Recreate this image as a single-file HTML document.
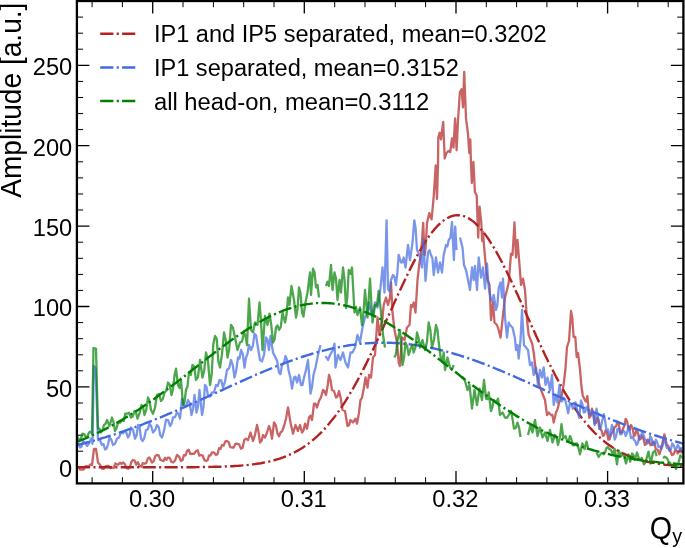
<!DOCTYPE html>
<html><head><meta charset="utf-8"><title>Amplitude vs Qy</title>
<style>
html,body{margin:0;padding:0;background:#fff;}
body{width:685px;height:548px;overflow:hidden;}
svg{display:block;}
text{font-family:"Liberation Sans",Arial,Helvetica,sans-serif;fill:#000;}
.tk{font-size:23.7px;}
.lg{font-size:23.7px;}
.ax{font-size:28.1px;}
</style></head><body>
<svg width="685" height="548" viewBox="0 0 685 548">
<rect x="0" y="0" width="685" height="548" fill="#fff"/>
<defs><clipPath id="cp"><rect x="76.9" y="1.0" width="606.5" height="482.4"/></clipPath></defs>
<g stroke="#000" fill="none">
<path d="M92.1 483.4v-6.2M92.1 1.0v6.2" stroke-width="1.0"/>
<path d="M122.4 483.4v-6.2M122.4 1.0v6.2" stroke-width="1.0"/>
<path d="M152.7 483.4v-12.5M152.7 1.0v12.5" stroke-width="1.3"/>
<path d="M183.0 483.4v-6.2M183.0 1.0v6.2" stroke-width="1.0"/>
<path d="M213.4 483.4v-6.2M213.4 1.0v6.2" stroke-width="1.0"/>
<path d="M243.7 483.4v-6.2M243.7 1.0v6.2" stroke-width="1.0"/>
<path d="M274.0 483.4v-6.2M274.0 1.0v6.2" stroke-width="1.0"/>
<path d="M304.3 483.4v-12.5M304.3 1.0v12.5" stroke-width="1.3"/>
<path d="M334.7 483.4v-6.2M334.7 1.0v6.2" stroke-width="1.0"/>
<path d="M365.0 483.4v-6.2M365.0 1.0v6.2" stroke-width="1.0"/>
<path d="M395.3 483.4v-6.2M395.3 1.0v6.2" stroke-width="1.0"/>
<path d="M425.6 483.4v-6.2M425.6 1.0v6.2" stroke-width="1.0"/>
<path d="M456.0 483.4v-12.5M456.0 1.0v12.5" stroke-width="1.3"/>
<path d="M486.3 483.4v-6.2M486.3 1.0v6.2" stroke-width="1.0"/>
<path d="M516.6 483.4v-6.2M516.6 1.0v6.2" stroke-width="1.0"/>
<path d="M546.9 483.4v-6.2M546.9 1.0v6.2" stroke-width="1.0"/>
<path d="M577.3 483.4v-6.2M577.3 1.0v6.2" stroke-width="1.0"/>
<path d="M607.6 483.4v-12.5M607.6 1.0v12.5" stroke-width="1.3"/>
<path d="M637.9 483.4v-6.2M637.9 1.0v6.2" stroke-width="1.0"/>
<path d="M668.2 483.4v-6.2M668.2 1.0v6.2" stroke-width="1.0"/>
<path d="M76.9 467.3h12.5M683.4 467.3h-12.5" stroke-width="1.3"/>
<path d="M76.9 451.2h6.2M683.4 451.2h-6.2" stroke-width="1.0"/>
<path d="M76.9 435.2h6.2M683.4 435.2h-6.2" stroke-width="1.0"/>
<path d="M76.9 419.1h6.2M683.4 419.1h-6.2" stroke-width="1.0"/>
<path d="M76.9 403.0h6.2M683.4 403.0h-6.2" stroke-width="1.0"/>
<path d="M76.9 386.9h12.5M683.4 386.9h-12.5" stroke-width="1.3"/>
<path d="M76.9 370.8h6.2M683.4 370.8h-6.2" stroke-width="1.0"/>
<path d="M76.9 354.8h6.2M683.4 354.8h-6.2" stroke-width="1.0"/>
<path d="M76.9 338.7h6.2M683.4 338.7h-6.2" stroke-width="1.0"/>
<path d="M76.9 322.6h6.2M683.4 322.6h-6.2" stroke-width="1.0"/>
<path d="M76.9 306.5h12.5M683.4 306.5h-12.5" stroke-width="1.3"/>
<path d="M76.9 290.4h6.2M683.4 290.4h-6.2" stroke-width="1.0"/>
<path d="M76.9 274.4h6.2M683.4 274.4h-6.2" stroke-width="1.0"/>
<path d="M76.9 258.3h6.2M683.4 258.3h-6.2" stroke-width="1.0"/>
<path d="M76.9 242.2h6.2M683.4 242.2h-6.2" stroke-width="1.0"/>
<path d="M76.9 226.1h12.5M683.4 226.1h-12.5" stroke-width="1.3"/>
<path d="M76.9 210.0h6.2M683.4 210.0h-6.2" stroke-width="1.0"/>
<path d="M76.9 194.0h6.2M683.4 194.0h-6.2" stroke-width="1.0"/>
<path d="M76.9 177.9h6.2M683.4 177.9h-6.2" stroke-width="1.0"/>
<path d="M76.9 161.8h6.2M683.4 161.8h-6.2" stroke-width="1.0"/>
<path d="M76.9 145.7h12.5M683.4 145.7h-12.5" stroke-width="1.3"/>
<path d="M76.9 129.6h6.2M683.4 129.6h-6.2" stroke-width="1.0"/>
<path d="M76.9 113.6h6.2M683.4 113.6h-6.2" stroke-width="1.0"/>
<path d="M76.9 97.5h6.2M683.4 97.5h-6.2" stroke-width="1.0"/>
<path d="M76.9 81.4h6.2M683.4 81.4h-6.2" stroke-width="1.0"/>
<path d="M76.9 65.3h12.5M683.4 65.3h-12.5" stroke-width="1.3"/>
<path d="M76.9 49.2h6.2M683.4 49.2h-6.2" stroke-width="1.0"/>
<path d="M76.9 33.2h6.2M683.4 33.2h-6.2" stroke-width="1.0"/>
<path d="M76.9 17.1h6.2M683.4 17.1h-6.2" stroke-width="1.0"/>
</g>
<g clip-path="url(#cp)" fill="none" stroke-linejoin="round">
<path d="M77.0 467.5L78.7 467.7L80.3 469.7L82.0 469.5L83.7 469.5L85.3 466.4L87.0 466.0L88.7 466.6L90.3 464.4L92.0 465.0L94.0 448.8L96.0 448.8L98.0 462.5L100.0 464.7L102.0 468.7L103.7 468.8L105.3 466.3L107.0 466.0L108.7 466.0L110.3 468.1L112.0 467.5L113.7 468.1L115.3 463.5L117.0 464.5L118.5 464.5L120.0 462.7L121.5 464.0L123.0 462.5L124.7 463.9L126.3 467.8L128.0 468.7L129.7 467.7L131.3 462.0L133.0 460.0L134.6 460.5L136.2 464.7L137.9 462.2L139.5 466.0L141.2 466.8L142.8 463.2L144.5 463.7L146.2 463.2L147.8 458.5L149.5 457.5L152.0 462.5L153.7 461.2L155.3 456.0L157.0 455.0L158.7 455.3L160.3 459.9L162.0 460.5L163.5 461.1L165.0 457.7L166.5 459.9L168.0 457.5L169.7 457.9L171.3 461.8L173.0 462.5L175.0 460.7L177.0 455.0L179.0 456.5L181.0 461.0L182.5 460.1L184.0 455.0L185.5 455.5L187.0 451.0L188.7 449.7L190.3 454.0L192.0 453.7L194.0 453.8L196.0 451.0L197.7 450.3L199.3 455.6L201.0 455.0L202.7 455.5L204.3 460.1L206.0 461.0L207.5 460.3L209.0 455.5L210.5 455.6L212.0 452.5L214.0 452.5L216.0 455.0L217.5 454.3L219.0 448.2L220.5 448.9L222.0 445.0L223.7 445.5L225.3 441.3L227.0 441.0L228.7 442.1L230.3 447.1L232.0 447.5L233.7 447.5L235.3 443.9L237.0 443.7L239.0 444.3L241.0 448.7L242.7 447.5L244.3 439.9L246.0 438.7L248.0 440.0L250.5 432.5L253.0 441.0L255.0 434.9L257.0 425.0L258.5 431.8L260.0 442.5L261.5 441.2L263.0 435.0L265.0 437.6L267.0 432.5L269.0 426.0L270.5 430.2L272.0 438.7L274.0 422.5L275.8 425.2L277.5 433.7L279.0 436.2L280.5 432.5L282.2 431.2L284.0 426.0L286.0 418.7L288.0 407.5L290.5 422.5L293.0 433.7L295.5 425.0L298.0 431.0L300.0 425.0L302.0 432.5L303.5 430.6L305.0 423.7L307.0 428.7L309.0 417.5L310.5 415.8L312.0 420.0L314.0 403.7L315.5 403.6L317.0 407.5L319.0 401.0L321.0 397.2L323.0 390.0L324.5 391.2L326.0 395.0L327.5 386.8L329.0 375.0L330.5 380.0L332.0 390.0L334.0 391.0L336.0 397.5L337.5 396.5L339.0 391.0L340.8 398.6L342.5 410.0L345.0 411.0L347.5 426.0L349.0 425.2L350.5 420.0L353.0 422.5L355.5 418.7L357.0 423.7L358.8 414.0L360.5 400.0L362.0 397.8L363.5 390.0L365.5 377.5L367.5 387.5L369.0 375.0L371.0 377.5L373.0 357.5L375.0 355.0L377.5 317.5L379.5 335.0L381.0 325.0L382.4 318.9L383.7 305.0L386.0 297.5L388.0 305.0L390.0 297.5L391.0 282.5L392.5 312.5L394.5 330.0L397.0 342.5L398.7 362.5L400.0 366.0L402.0 337.5L404.5 340.0L407.0 327.5L409.5 325.0L411.0 305.0L412.4 306.7L413.7 302.5L415.5 312.5L417.5 280.0L419.5 262.5L421.0 255.0L423.2 223.0L424.5 255.0L425.6 248.5L427.0 223.0L429.3 213.0L431.6 219.3L433.8 195.6L435.7 165.5L437.0 199.0L438.0 164.6L438.3 137.5L439.6 132.7L441.0 139.4L443.2 122.0L444.7 158.5L446.5 153.0L448.4 151.0L450.2 152.0L452.0 138.5L453.5 147.6L455.1 118.4L456.6 150.3L458.0 120.2L459.9 92.0L461.7 89.2L463.0 107.4L464.2 71.9L466.0 118.4L467.9 133.0L469.3 153.0L470.3 139.4L470.9 161.0L471.8 183.0L473.4 162.0L474.9 192.0L476.7 195.6L478.2 237.6L479.6 206.6L481.3 223.0L482.2 241.0L483.0 232.0L484.4 250.0L485.5 262.5L487.5 280.0L489.5 285.0L491.0 320.0L493.0 302.5L494.5 322.5L497.0 325.0L498.7 330.0L500.5 337.5L502.5 320.0L505.0 297.5L507.0 290.0L508.7 282.5L511.0 253.7L512.5 255.0L514.5 222.5L516.0 257.5L517.5 240.0L519.5 265.0L521.0 285.0L523.0 278.7L525.0 290.0L527.0 320.0L528.7 335.0L530.7 340.0L532.2 343.7L533.7 352.5L536.0 372.5L537.4 374.6L538.7 382.5L541.0 390.0L543.0 395.0L545.0 400.0L547.0 415.0L548.7 412.5L551.0 415.0L552.4 414.9L553.7 422.5L556.0 412.5L557.6 408.9L559.3 402.0L561.3 397.6L563.4 386.0L565.4 369.5L567.0 347.0L569.0 341.0L571.0 311.0L572.3 318.2L573.6 337.0L575.3 337.0L576.7 357.0L578.0 353.0L579.8 367.5L581.4 386.0L582.8 396.0L584.6 399.6L586.0 401.5L587.4 396.0L589.2 417.8L590.6 416.3L592.0 408.7L593.4 413.5L594.7 423.3L596.0 423.1L597.4 417.8L598.7 420.6L600.0 428.8L601.5 430.5L603.0 436.0L604.3 434.6L605.6 430.6L607.0 432.5L608.4 439.7L609.7 439.1L611.0 434.3L612.9 432.2L614.7 427.0L616.1 426.3L617.5 421.5L618.9 424.9L620.2 432.4L621.6 432.4L623.0 428.8L624.4 425.6L625.7 418.8L627.0 420.9L628.4 428.8L629.7 430.0L631.0 425.0L632.5 427.7L634.0 436.0L635.3 434.8L636.6 428.8L638.0 433.0L639.4 439.7L640.7 439.0L642.0 436.0L643.5 439.0L644.9 445.0L646.2 443.9L647.6 439.7L649.0 440.4L650.3 445.0L651.6 445.2L653.0 441.6L654.4 442.7L655.8 449.0L657.6 449.8L659.5 454.3L662.0 445.0L664.4 434.3L666.8 445.0L668.1 445.8L669.5 449.0L672.0 455.0L673.5 454.4L675.0 450.7L676.4 450.6L677.7 453.4L679.0 452.0L680.4 449.0L682.0 453.4" stroke="#b22222" stroke-opacity="0.7" stroke-width="2.3"/>
<path d="M76.9 467.3L78.9 467.3L80.9 467.3L83.0 467.3L85.0 467.3L87.0 467.3L89.0 467.3L91.1 467.3L93.1 467.3L95.1 467.3L97.1 467.3L99.1 467.3L101.2 467.3L103.2 467.3L105.2 467.3L107.2 467.3L109.2 467.3L111.3 467.3L113.3 467.3L115.3 467.3L117.3 467.3L119.4 467.3L121.4 467.3L123.4 467.3L125.4 467.3L127.4 467.3L129.5 467.3L131.5 467.3L133.5 467.3L135.5 467.3L137.6 467.3L139.6 467.3L141.6 467.3L143.6 467.3L145.6 467.3L147.7 467.3L149.7 467.3L151.7 467.3L153.7 467.3L155.7 467.3L157.8 467.3L159.8 467.3L161.8 467.3L163.8 467.3L165.9 467.3L167.9 467.3L169.9 467.3L171.9 467.3L173.9 467.3L176.0 467.3L178.0 467.3L180.0 467.2L182.0 467.2L184.0 467.2L186.1 467.2L188.1 467.2L190.1 467.2L192.1 467.2L194.2 467.2L196.2 467.1L198.2 467.1L200.2 467.1L202.2 467.1L204.3 467.0L206.3 467.0L208.3 467.0L210.3 466.9L212.4 466.9L214.4 466.8L216.4 466.8L218.4 466.7L220.4 466.7L222.5 466.6L224.5 466.5L226.5 466.4L228.5 466.4L230.5 466.3L232.6 466.2L234.6 466.0L236.6 465.9L238.6 465.8L240.7 465.6L242.7 465.4L244.7 465.3L246.7 465.1L248.7 464.9L250.8 464.6L252.8 464.4L254.8 464.1L256.8 463.8L258.9 463.5L260.9 463.2L262.9 462.8L264.9 462.4L266.9 462.0L269.0 461.6L271.0 461.1L273.0 460.6L275.0 460.0L277.0 459.4L279.1 458.8L281.1 458.1L283.1 457.4L285.1 456.6L287.2 455.8L289.2 454.9L291.2 454.0L293.2 453.0L295.2 452.0L297.3 450.9L299.3 449.7L301.3 448.5L303.3 447.2L305.3 445.8L307.4 444.4L309.4 442.9L311.4 441.3L313.4 439.6L315.5 437.9L317.5 436.0L319.5 434.1L321.5 432.1L323.5 430.0L325.6 427.8L327.6 425.5L329.6 423.1L331.6 420.6L333.7 418.1L335.7 415.4L337.7 412.6L339.7 409.8L341.7 406.8L343.8 403.8L345.8 400.6L347.8 397.3L349.8 394.0L351.8 390.6L353.9 387.0L355.9 383.4L357.9 379.7L359.9 375.9L362.0 372.0L364.0 368.1L366.0 364.1L368.0 360.0L370.0 355.8L372.1 351.6L374.1 347.3L376.1 343.0L378.1 338.6L380.2 334.2L382.2 329.8L384.2 325.3L386.2 320.8L388.2 316.3L390.3 311.8L392.3 307.3L394.3 302.8L396.3 298.4L398.3 293.9L400.4 289.5L402.4 285.2L404.4 280.9L406.4 276.7L408.5 272.5L410.5 268.4L412.5 264.4L414.5 260.6L416.5 256.8L418.6 253.1L420.6 249.6L422.6 246.2L424.6 242.9L426.6 239.8L428.7 236.8L430.7 234.1L432.7 231.4L434.7 229.0L436.8 226.7L438.8 224.7L440.8 222.8L442.8 221.1L444.8 219.6L446.9 218.4L448.9 217.3L450.9 216.4L452.9 215.8L455.0 215.4L457.0 215.2L459.0 215.2L461.0 215.5L463.0 215.9L465.1 216.6L467.1 217.5L469.1 218.6L471.1 219.9L473.1 221.4L475.2 223.1L477.2 225.1L479.2 227.2L481.2 229.5L483.3 231.9L485.3 234.6L487.3 237.4L489.3 240.4L491.3 243.6L493.4 246.8L495.4 250.3L497.4 253.8L499.4 257.5L501.5 261.3L503.5 265.2L505.5 269.2L507.5 273.3L509.5 277.5L511.6 281.7L513.6 286.0L515.6 290.4L517.6 294.8L519.6 299.3L521.7 303.7L523.7 308.2L525.7 312.7L527.7 317.2L529.8 321.7L531.8 326.2L533.8 330.6L535.8 335.1L537.8 339.5L539.9 343.9L541.9 348.2L543.9 352.4L545.9 356.7L547.9 360.8L550.0 364.9L552.0 368.9L554.0 372.8L556.0 376.7L558.1 380.5L560.1 384.1L562.1 387.7L564.1 391.3L566.1 394.7L568.2 398.0L570.2 401.2L572.2 404.4L574.2 407.4L576.3 410.4L578.3 413.2L580.3 415.9L582.3 418.6L584.3 421.1L586.4 423.6L588.4 426.0L590.4 428.2L592.4 430.4L594.4 432.5L596.5 434.5L598.5 436.4L600.5 438.2L602.5 440.0L604.6 441.6L606.6 443.2L608.6 444.7L610.6 446.1L612.6 447.5L614.7 448.7L616.7 450.0L618.7 451.1L620.7 452.2L622.7 453.2L624.8 454.2L626.8 455.1L628.8 456.0L630.8 456.8L632.9 457.5L634.9 458.2L636.9 458.9L638.9 459.5L640.9 460.1L643.0 460.7L645.0 461.2L647.0 461.7L649.0 462.1L651.1 462.5L653.1 462.9L655.1 463.2L657.1 463.6L659.1 463.9L661.2 464.2L663.2 464.4L665.2 464.7L667.2 464.9L669.2 465.1L671.3 465.3L673.3 465.5L675.3 465.6L677.3 465.8L679.4 465.9L681.4 466.1L683.4 466.2" stroke="#b22222" stroke-width="2.4" stroke-dasharray="13.2 3.3 2.1 3.3"/>
<path d="M77.0 443.7L78.5 443.7L80.0 447.5L81.5 446.7L83.0 441.0L85.0 442.6L87.0 446.0L89.0 443.5L91.0 438.7L92.5 443.7L93.8 366.0L95.6 368.0L98.0 440.0L100.0 440.2L102.0 445.0L103.5 444.1L105.0 449.5L106.5 448.7L108.0 444.6L109.5 437.5L111.2 439.3L113.0 445.0L115.0 443.8L117.0 438.7L119.0 437.5L121.0 432.5L122.8 433.3L124.5 431.0L126.2 432.3L128.0 437.5L129.5 435.1L131.0 427.5L133.0 429.8L135.0 438.7L136.5 435.8L138.0 425.0L139.5 426.5L141.0 438.6L142.5 441.0L144.2 438.4L146.0 430.0L147.8 429.4L149.5 423.7L151.2 426.2L153.0 432.5L155.0 430.3L157.0 425.0L158.7 426.9L160.3 435.4L162.0 437.5L164.0 430.6L166.0 420.0L168.0 419.8L170.0 426.0L171.5 423.9L173.0 417.5L175.0 417.1L177.0 412.5L178.5 414.0L180.0 418.7L182.0 398.7L184.5 406.0L186.2 405.6L188.0 400.0L189.8 403.3L191.5 415.0L193.0 408.9L194.5 395.0L196.5 412.5L198.0 406.2L199.5 390.0L202.0 415.0L203.5 406.9L205.0 385.0L206.5 387.0L208.0 396.0L210.0 396.5L212.0 392.5L214.0 392.5L216.0 385.0L217.8 386.0L219.5 380.0L221.2 380.4L223.0 387.5L225.0 381.6L227.0 370.0L229.0 368.4L231.0 360.0L232.8 365.3L234.5 377.5L236.2 370.6L238.0 357.5L239.5 358.6L241.0 350.0L242.8 353.9L244.5 367.5L246.0 357.5L247.5 353.8L249.0 345.0L251.0 350.0L252.8 346.1L254.5 333.7L256.0 335.2L257.5 345.0L260.0 360.0L262.0 361.3L264.0 355.0L266.0 337.5L267.5 339.7L269.0 350.0L270.5 336.0L273.0 352.5L275.5 357.5L277.2 361.1L279.0 372.5L280.5 374.1L282.0 365.0L283.8 363.6L285.5 356.0L287.0 359.8L288.5 370.0L290.2 376.9L292.0 388.7L294.0 377.5L295.5 376.7L297.0 382.5L299.0 375.0L301.0 385.0L302.5 385.0L304.0 377.5L306.0 370.0L308.0 360.0L310.5 393.7L312.0 387.1L313.5 375.0L315.5 367.5L318.0 355.0L320.5 345.0M325.5 356.0L328.0 360.0L330.5 354.0L333.0 350.0L334.5 343.7L335.5 367.5L338.0 355.0L340.5 360.0L343.0 352.5L345.5 362.5L348.0 367.5L350.5 352.5L352.5 352.5L355.0 347.5L357.5 335.0L360.0 342.5L362.5 327.5L365.0 317.5L367.0 313.0L369.0 302.5L371.0 312.5L373.0 313.2L375.0 302.5L377.5 307.5L380.0 292.5L382.5 267.5L384.5 292.5L386.6 220.3L388.0 289.0L389.5 291.5L391.0 280.0L393.0 275.0L394.5 277.2L396.0 285.0L397.4 272.2L398.7 255.0L401.0 262.5L402.4 262.4L403.7 257.5L405.5 267.5L408.0 245.0L410.0 260.0L412.5 242.5L414.3 220.3L415.6 228.2L417.0 250.0L419.5 255.0L422.0 267.5L423.5 239.4L425.5 281.0L428.0 252.5L429.5 250.2L431.0 255.0L432.4 258.4L433.7 275.0L436.0 257.5L438.0 272.5L440.0 262.5L442.0 272.5L443.7 255.0L446.0 245.0L447.4 246.5L448.7 240.0L450.4 237.8L452.0 222.0L453.9 260.0L455.2 226.6L456.5 250.0M460.0 237.5L462.5 247.5L464.0 265.0L466.0 270.0L468.0 280.0L470.0 290.0L472.0 267.5L473.7 280.0L475.0 266.0L477.0 290.0L478.7 257.5L481.0 277.5L483.0 267.5L485.0 288.7L487.0 263.7L488.7 287.5L491.0 300.0L492.4 301.0L493.7 295.0L496.0 310.0L497.4 304.8L498.7 288.0L500.5 282.5L502.0 297.5L503.0 278.7L505.0 317.5L507.0 337.5L508.7 322.5L510.0 325.0L512.5 327.5L515.0 338.5L516.0 350.0L517.5 345.0L518.7 358.7L520.5 340.0L522.0 310.0L524.0 345.0L526.0 347.5L528.0 350.0L530.0 365.0L532.0 362.5L533.7 375.0L536.0 367.5L538.0 385.0L540.0 370.0L542.0 377.5L543.7 367.5L545.5 385.0L547.5 377.5L550.0 390.0L552.0 375.0L553.7 405.0L555.5 395.0L557.5 402.5L559.5 385.0L560.5 396.0L561.8 401.4L563.6 397.8L565.0 399.0L566.4 405.0L568.2 413.3L570.0 403.0L571.4 403.8L572.8 408.7L574.1 407.8L575.5 402.3L577.3 410.5L579.2 417.8L581.0 400.5L582.4 404.1L583.7 412.4L585.1 412.2L586.5 407.0L587.9 407.8L589.2 414.2L590.6 414.9L592.0 410.5L593.4 415.7L594.7 425.0L596.5 408.7L597.9 416.0L599.2 428.8L600.6 428.5L602.0 421.5L603.8 414.2L605.1 420.4L606.5 430.6L607.9 429.4L609.3 436.0L610.6 432.9L612.0 425.0L613.4 429.6L614.7 439.7L616.1 436.1L617.5 428.8L618.9 428.5L620.2 434.3L621.6 434.1L623.0 430.6L624.4 431.6L625.7 436.0L627.0 432.8L628.4 427.0L629.7 431.3L631.0 438.0L632.5 436.9L634.0 439.7L635.3 441.3L636.6 445.0L638.0 442.6L639.4 436.0L640.7 436.8L642.0 432.4L643.5 434.9L644.9 439.7L646.2 440.0L647.6 443.4L649.0 442.4L650.3 436.0L651.6 438.6L653.0 445.0L654.4 444.8L655.8 439.7L657.1 442.1L658.5 447.0L659.9 446.2L661.3 449.0L662.6 445.8L664.0 439.7L665.4 442.1L666.8 448.0L668.1 448.3L669.5 450.7L670.9 449.2L672.2 443.4L673.6 445.2L675.0 449.0L676.4 448.9L677.7 445.0L679.0 446.9L680.4 450.7L682.0 447.0" stroke="#4169e1" stroke-opacity="0.7" stroke-width="2.3"/>
<path d="M76.9 445.2L78.9 444.6L80.9 444.1L83.0 443.6L85.0 443.1L87.0 442.5L89.0 442.0L91.1 441.4L93.1 440.8L95.1 440.3L97.1 439.7L99.1 439.1L101.2 438.5L103.2 437.9L105.2 437.3L107.2 436.6L109.2 436.0L111.3 435.4L113.3 434.7L115.3 434.1L117.3 433.4L119.4 432.7L121.4 432.0L123.4 431.3L125.4 430.6L127.4 429.9L129.5 429.2L131.5 428.5L133.5 427.8L135.5 427.0L137.6 426.3L139.6 425.5L141.6 424.8L143.6 424.0L145.6 423.2L147.7 422.4L149.7 421.6L151.7 420.8L153.7 420.0L155.7 419.2L157.8 418.4L159.8 417.6L161.8 416.8L163.8 415.9L165.9 415.1L167.9 414.2L169.9 413.4L171.9 412.5L173.9 411.7L176.0 410.8L178.0 409.9L180.0 409.0L182.0 408.1L184.0 407.3L186.1 406.4L188.1 405.5L190.1 404.6L192.1 403.7L194.2 402.8L196.2 401.9L198.2 400.9L200.2 400.0L202.2 399.1L204.3 398.2L206.3 397.3L208.3 396.3L210.3 395.4L212.4 394.5L214.4 393.6L216.4 392.6L218.4 391.7L220.4 390.8L222.5 389.9L224.5 388.9L226.5 388.0L228.5 387.1L230.5 386.2L232.6 385.2L234.6 384.3L236.6 383.4L238.6 382.5L240.7 381.6L242.7 380.7L244.7 379.8L246.7 378.9L248.7 378.0L250.8 377.1L252.8 376.2L254.8 375.3L256.8 374.4L258.9 373.6L260.9 372.7L262.9 371.8L264.9 371.0L266.9 370.1L269.0 369.3L271.0 368.5L273.0 367.7L275.0 366.8L277.0 366.0L279.1 365.2L281.1 364.5L283.1 363.7L285.1 362.9L287.2 362.2L289.2 361.4L291.2 360.7L293.2 359.9L295.2 359.2L297.3 358.5L299.3 357.8L301.3 357.2L303.3 356.5L305.3 355.8L307.4 355.2L309.4 354.6L311.4 354.0L313.4 353.4L315.5 352.8L317.5 352.2L319.5 351.7L321.5 351.1L323.5 350.6L325.6 350.1L327.6 349.6L329.6 349.1L331.6 348.6L333.7 348.2L335.7 347.8L337.7 347.4L339.7 347.0L341.7 346.6L343.8 346.2L345.8 345.9L347.8 345.5L349.8 345.2L351.8 344.9L353.9 344.7L355.9 344.4L357.9 344.2L359.9 343.9L362.0 343.7L364.0 343.5L366.0 343.4L368.0 343.2L370.0 343.1L372.1 343.0L374.1 342.9L376.1 342.8L378.1 342.8L380.2 342.7L382.2 342.7L384.2 342.7L386.2 342.7L388.2 342.8L390.3 342.8L392.3 342.9L394.3 343.0L396.3 343.1L398.3 343.2L400.4 343.4L402.4 343.5L404.4 343.7L406.4 343.9L408.5 344.2L410.5 344.4L412.5 344.7L414.5 344.9L416.5 345.2L418.6 345.5L420.6 345.9L422.6 346.2L424.6 346.6L426.6 347.0L428.7 347.4L430.7 347.8L432.7 348.2L434.7 348.6L436.8 349.1L438.8 349.6L440.8 350.1L442.8 350.6L444.8 351.1L446.9 351.7L448.9 352.2L450.9 352.8L452.9 353.4L455.0 354.0L457.0 354.6L459.0 355.2L461.0 355.8L463.0 356.5L465.1 357.2L467.1 357.8L469.1 358.5L471.1 359.2L473.1 359.9L475.2 360.7L477.2 361.4L479.2 362.2L481.2 362.9L483.3 363.7L485.3 364.5L487.3 365.2L489.3 366.0L491.3 366.8L493.4 367.7L495.4 368.5L497.4 369.3L499.4 370.1L501.5 371.0L503.5 371.8L505.5 372.7L507.5 373.6L509.5 374.4L511.6 375.3L513.6 376.2L515.6 377.1L517.6 378.0L519.6 378.9L521.7 379.8L523.7 380.7L525.7 381.6L527.7 382.5L529.8 383.4L531.8 384.3L533.8 385.2L535.8 386.2L537.8 387.1L539.9 388.0L541.9 388.9L543.9 389.9L545.9 390.8L547.9 391.7L550.0 392.6L552.0 393.6L554.0 394.5L556.0 395.4L558.1 396.3L560.1 397.3L562.1 398.2L564.1 399.1L566.1 400.0L568.2 400.9L570.2 401.9L572.2 402.8L574.2 403.7L576.3 404.6L578.3 405.5L580.3 406.4L582.3 407.3L584.3 408.1L586.4 409.0L588.4 409.9L590.4 410.8L592.4 411.7L594.4 412.5L596.5 413.4L598.5 414.2L600.5 415.1L602.5 415.9L604.6 416.8L606.6 417.6L608.6 418.4L610.6 419.2L612.6 420.0L614.7 420.8L616.7 421.6L618.7 422.4L620.7 423.2L622.7 424.0L624.8 424.8L626.8 425.5L628.8 426.3L630.8 427.0L632.9 427.8L634.9 428.5L636.9 429.2L638.9 429.9L640.9 430.6L643.0 431.3L645.0 432.0L647.0 432.7L649.0 433.4L651.1 434.1L653.1 434.7L655.1 435.4L657.1 436.0L659.1 436.6L661.2 437.3L663.2 437.9L665.2 438.5L667.2 439.1L669.2 439.7L671.3 440.3L673.3 440.8L675.3 441.4L677.3 442.0L679.4 442.5L681.4 443.1L683.4 443.6" stroke="#4169e1" stroke-width="2.4" stroke-dasharray="13.2 3.3 2.1 3.3"/>
<path d="M77.0 436.0L79.5 441.0L81.0 438.4L82.5 433.7L84.2 434.1L86.0 437.5L87.5 436.3L89.0 432.5L90.5 431.6L92.0 433.7L93.5 348.0L96.0 348.7L98.0 428.7L99.5 428.7L101.0 432.5L102.5 430.1L104.0 425.0L105.5 423.8L107.0 420.0L109.5 426.0L112.0 417.5L113.5 422.0L115.0 431.0L116.5 428.2L118.0 422.5L120.0 422.7L122.0 420.0L123.7 420.9L125.3 413.7L127.0 413.7L129.0 412.8L131.0 417.5L132.8 416.4L134.5 411.0L136.0 412.4L137.5 418.7L139.5 413.4L141.5 405.0L143.0 406.9L144.5 415.0L146.2 409.9L148.0 397.5L149.5 400.9L151.0 410.0L153.0 413.7L155.0 407.7L157.0 395.0L159.0 394.0L161.0 401.0L162.8 399.0L164.5 392.5L166.2 390.9L168.0 382.5L169.8 385.0L171.5 395.0L173.0 389.2L174.5 375.3L176.0 368.7L178.0 385.0L179.5 388.0L181.0 380.0L183.0 405.0L184.5 402.0L186.0 390.0L187.5 386.4L189.0 372.0L190.8 374.9L192.5 365.0L194.2 366.6L196.0 380.0L198.0 376.8L200.0 360.0L202.5 377.5L204.2 370.4L206.0 352.5L208.0 361.3L210.0 385.0L211.7 374.3L213.3 344.2L215.0 336.0L216.7 338.7L218.3 361.0L220.0 367.5L222.0 354.2L224.0 332.5L225.8 340.4L227.5 357.5L229.2 349.5L231.0 325.0L233.0 327.9L235.0 337.5L237.5 350.0L240.0 342.5L242.0 341.4L244.0 332.5L245.5 335.8L247.0 345.0L249.0 298.7L251.0 330.0L253.0 332.2L255.0 322.5L257.5 325.0L259.5 302.5L261.0 320.9L262.5 350.0L265.0 316.0L267.5 325.0L269.5 313.7L271.2 324.4L273.0 342.5L274.5 339.5L276.0 327.5L277.5 325.4L279.0 330.0L280.8 326.9L282.5 312.5L285.0 322.5L286.5 314.8L288.0 297.5L289.5 305.0L291.5 286.0L294.0 300.0L296.0 317.5L297.5 309.1L299.0 287.5L300.5 293.1L302.0 312.5L303.5 316.6L305.0 305.0L307.5 292.5L310.0 272.5L311.0 295.0L313.0 268.7L314.5 272.1L316.0 287.5L317.5 285.0L319.0 297.5M326.0 286.0L327.5 281.7L329.0 286.0L331.0 265.0L332.5 290.0L334.5 272.5L336.0 278.6L337.5 300.0L339.5 280.0L341.0 292.5L343.0 267.5L344.5 279.5L346.0 308.0L347.4 296.5L348.7 270.0L350.4 273.9L352.0 267.5L354.5 312.5L356.0 306.8L357.5 315.0L360.0 307.5L362.0 325.0L363.5 312.0L365.0 290.0L367.5 317.5L370.0 278.7L372.5 322.5L375.0 305.0L376.9 305.6L378.7 291.0L381.0 312.5L383.0 335.0L385.0 347.5M394.5 357.5L396.0 354.0L397.5 340.0L400.0 330.0L402.5 365.0L404.0 357.8L405.5 342.5L407.1 346.1L408.7 355.0L411.0 347.5L412.4 345.5L413.7 352.5L415.4 347.4L417.0 332.5L418.5 337.7L420.0 347.5L422.5 340.0L425.0 350.0L426.9 342.4L428.7 322.5L430.4 330.5L432.0 347.5L434.0 339.7L436.0 325.0L437.4 329.7L438.7 342.5L441.0 360.0L442.4 362.2L443.7 352.5L445.0 370.0L447.5 357.5L450.0 367.5L451.9 369.9L453.7 365.0M461.0 377.5L463.0 377.7L465.0 381.0L467.5 390.0L469.5 385.0L472.0 408.7L474.5 390.0L477.0 405.0L479.5 388.7L482.0 400.0L484.0 380.0L486.0 398.7L487.4 399.1L488.7 392.5L491.0 411.0L492.4 407.4L493.7 400.0L496.0 402.5L498.0 398.7L500.0 415.0L502.5 412.5L505.0 417.5L506.9 417.9L508.7 415.0L511.0 411.0L512.5 418.6L514.0 428.7L515.8 427.9L517.5 422.5L519.0 427.3L520.5 437.0M528.0 435.0L530.5 425.0L532.5 432.5L535.0 420.0L537.5 436.0L540.0 427.5L542.5 437.5L545.0 432.5L547.5 441.0L550.0 430.0L552.5 442.5L555.0 435.0L556.5 437.2L558.0 445.0L560.0 437.0L561.5 424.2L563.3 438.0L565.5 436.0L567.3 441.6L568.6 441.0L570.0 436.0L571.4 439.3L572.8 445.2L574.1 445.3L575.5 443.4L576.9 443.5L578.2 447.0L580.0 454.3L582.3 443.4L584.6 449.0L586.5 441.6L588.3 449.0M596.5 452.5L598.7 457.0L601.0 453.4L602.4 453.1L603.8 454.3L605.1 452.3L606.5 448.0L607.9 447.1L609.3 449.0L611.1 450.0L613.0 454.3L614.7 449.0L617.0 464.4L618.8 450.7L621.0 456.2L623.5 454.3L626.0 463.5L628.4 454.3L630.3 461.6L632.0 453.4L633.4 455.1L634.8 459.8L637.0 452.5L639.4 459.8L641.8 458.0L644.0 464.4L645.4 462.3L646.7 458.0L648.5 451.6L650.7 463.5L653.0 452.5L655.0 450.7L656.7 456.2M663.0 458.0L664.9 456.7L666.8 458.0L668.6 461.6L670.0 462.6L671.3 465.3L672.6 465.8L674.0 463.5L676.0 469.0L678.3 463.5L680.4 455.3L682.0 458.0" stroke="#008000" stroke-opacity="0.7" stroke-width="2.3"/>
<path d="M76.9 441.8L78.9 441.1L80.9 440.2L83.0 439.4L85.0 438.6L87.0 437.7L89.0 436.8L91.1 435.9L93.1 435.0L95.1 434.1L97.1 433.1L99.1 432.2L101.2 431.2L103.2 430.2L105.2 429.1L107.2 428.1L109.2 427.0L111.3 425.9L113.3 424.8L115.3 423.7L117.3 422.6L119.4 421.4L121.4 420.2L123.4 419.1L125.4 417.8L127.4 416.6L129.5 415.4L131.5 414.1L133.5 412.8L135.5 411.5L137.6 410.2L139.6 408.9L141.6 407.6L143.6 406.2L145.6 404.8L147.7 403.4L149.7 402.0L151.7 400.6L153.7 399.2L155.7 397.7L157.8 396.3L159.8 394.8L161.8 393.3L163.8 391.8L165.9 390.3L167.9 388.8L169.9 387.3L171.9 385.8L173.9 384.2L176.0 382.7L178.0 381.1L180.0 379.6L182.0 378.0L184.0 376.5L186.1 374.9L188.1 373.3L190.1 371.7L192.1 370.1L194.2 368.6L196.2 367.0L198.2 365.4L200.2 363.8L202.2 362.2L204.3 360.6L206.3 359.1L208.3 357.5L210.3 355.9L212.4 354.4L214.4 352.8L216.4 351.3L218.4 349.8L220.4 348.2L222.5 346.7L224.5 345.2L226.5 343.7L228.5 342.2L230.5 340.8L232.6 339.3L234.6 337.9L236.6 336.5L238.6 335.1L240.7 333.7L242.7 332.4L244.7 331.0L246.7 329.7L248.7 328.4L250.8 327.2L252.8 325.9L254.8 324.7L256.8 323.5L258.9 322.3L260.9 321.2L262.9 320.1L264.9 319.0L266.9 318.0L269.0 316.9L271.0 315.9L273.0 315.0L275.0 314.1L277.0 313.2L279.1 312.3L281.1 311.5L283.1 310.7L285.1 309.9L287.2 309.2L289.2 308.5L291.2 307.9L293.2 307.3L295.2 306.7L297.3 306.2L299.3 305.7L301.3 305.3L303.3 304.8L305.3 304.5L307.4 304.1L309.4 303.9L311.4 303.6L313.4 303.4L315.5 303.2L317.5 303.1L319.5 303.0L321.5 303.0L323.5 303.0L325.6 303.0L327.6 303.1L329.6 303.2L331.6 303.4L333.7 303.6L335.7 303.9L337.7 304.1L339.7 304.5L341.7 304.8L343.8 305.3L345.8 305.7L347.8 306.2L349.8 306.7L351.8 307.3L353.9 307.9L355.9 308.5L357.9 309.2L359.9 309.9L362.0 310.7L364.0 311.5L366.0 312.3L368.0 313.2L370.0 314.1L372.1 315.0L374.1 315.9L376.1 316.9L378.1 318.0L380.2 319.0L382.2 320.1L384.2 321.2L386.2 322.3L388.2 323.5L390.3 324.7L392.3 325.9L394.3 327.2L396.3 328.4L398.3 329.7L400.4 331.0L402.4 332.4L404.4 333.7L406.4 335.1L408.5 336.5L410.5 337.9L412.5 339.3L414.5 340.8L416.5 342.2L418.6 343.7L420.6 345.2L422.6 346.7L424.6 348.2L426.6 349.8L428.7 351.3L430.7 352.8L432.7 354.4L434.7 355.9L436.8 357.5L438.8 359.1L440.8 360.6L442.8 362.2L444.8 363.8L446.9 365.4L448.9 367.0L450.9 368.6L452.9 370.1L455.0 371.7L457.0 373.3L459.0 374.9L461.0 376.5L463.0 378.0L465.1 379.6L467.1 381.1L469.1 382.7L471.1 384.2L473.1 385.8L475.2 387.3L477.2 388.8L479.2 390.3L481.2 391.8L483.3 393.3L485.3 394.8L487.3 396.3L489.3 397.7L491.3 399.2L493.4 400.6L495.4 402.0L497.4 403.4L499.4 404.8L501.5 406.2L503.5 407.6L505.5 408.9L507.5 410.2L509.5 411.5L511.6 412.8L513.6 414.1L515.6 415.4L517.6 416.6L519.6 417.8L521.7 419.1L523.7 420.2L525.7 421.4L527.7 422.6L529.8 423.7L531.8 424.8L533.8 425.9L535.8 427.0L537.8 428.1L539.9 429.1L541.9 430.2L543.9 431.2L545.9 432.2L547.9 433.1L550.0 434.1L552.0 435.0L554.0 435.9L556.0 436.8L558.1 437.7L560.1 438.6L562.1 439.4L564.1 440.2L566.1 441.1L568.2 441.8L570.2 442.6L572.2 443.4L574.2 444.1L576.3 444.8L578.3 445.5L580.3 446.2L582.3 446.9L584.3 447.5L586.4 448.2L588.4 448.8L590.4 449.4L592.4 450.0L594.4 450.6L596.5 451.1L598.5 451.7L600.5 452.2L602.5 452.7L604.6 453.2L606.6 453.7L608.6 454.2L610.6 454.7L612.6 455.1L614.7 455.6L616.7 456.0L618.7 456.4L620.7 456.8L622.7 457.2L624.8 457.5L626.8 457.9L628.8 458.3L630.8 458.6L632.9 458.9L634.9 459.3L636.9 459.6L638.9 459.9L640.9 460.2L643.0 460.4L645.0 460.7L647.0 461.0L649.0 461.2L651.1 461.5L653.1 461.7L655.1 461.9L657.1 462.1L659.1 462.4L661.2 462.6L663.2 462.8L665.2 463.0L667.2 463.1L669.2 463.3L671.3 463.5L673.3 463.6L675.3 463.8L677.3 464.0L679.4 464.1L681.4 464.2L683.4 464.4" stroke="#008000" stroke-width="2.4" stroke-dasharray="13.2 3.3 2.1 3.3"/>
</g>
<rect x="76.9" y="1.0" width="606.5" height="482.4" fill="none" stroke="#000" stroke-width="2.3"/>
<text class="tk" transform="translate(72.3,477.1) scale(1,1.035)" text-anchor="end">0</text>
<text class="tk" transform="translate(72.3,396.7) scale(1,1.035)" text-anchor="end">50</text>
<text class="tk" transform="translate(72.3,316.3) scale(1,1.035)" text-anchor="end">100</text>
<text class="tk" transform="translate(72.3,235.9) scale(1,1.035)" text-anchor="end">150</text>
<text class="tk" transform="translate(72.3,155.5) scale(1,1.035)" text-anchor="end">200</text>
<text class="tk" transform="translate(72.3,75.1) scale(1,1.035)" text-anchor="end">250</text>
<text class="tk" transform="translate(152.1,507.0) scale(1,1.035)" text-anchor="middle">0.30</text>
<text class="tk" transform="translate(303.7,507.0) scale(1,1.035)" text-anchor="middle">0.31</text>
<text class="tk" transform="translate(455.4,507.0) scale(1,1.035)" text-anchor="middle">0.32</text>
<text class="tk" transform="translate(607.0,507.0) scale(1,1.035)" text-anchor="middle">0.33</text>
<text class="ax" transform="translate(21.0,197.8) rotate(-90) scale(1,1.03)">Amplitude [a.u.]</text>
<text transform="translate(649.7,538.9) scale(1,1.10)" font-size="28.7px">Q</text><text x="672.3" y="543.2" font-size="19.6px">y</text>
<path d="M100.2 33.8h35.2" stroke="#b22222" stroke-width="2.5" stroke-dasharray="13.2 3.3 2.1 3.3" fill="none"/>
<text class="lg" style="font-size:23.6px" transform="translate(153.9,42.1) scale(1,1.035)">IP1 and IP5 separated, mean=0.3202</text>
<path d="M100.2 67.6h35.2" stroke="#4169e1" stroke-width="2.5" stroke-dasharray="13.2 3.3 2.1 3.3" fill="none"/>
<text class="lg" style="font-size:23.6px" transform="translate(153.9,75.9) scale(1,1.035)">IP1 separated, mean=0.3152</text>
<path d="M100.2 101.1h35.2" stroke="#008000" stroke-width="2.5" stroke-dasharray="13.2 3.3 2.1 3.3" fill="none"/>
<text class="lg" style="font-size:23.8px" transform="translate(153.9,110.3) scale(1,1.035)">all head-on, mean=0.3112</text>
</svg>
</body></html>
